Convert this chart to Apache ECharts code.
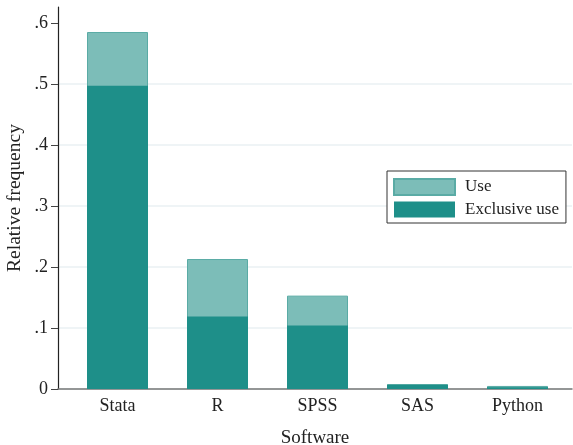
<!DOCTYPE html>
<html>
<head>
<meta charset="utf-8">
<script src="https://cdn.jsdelivr.net/npm/echarts@6/dist/echarts.min.js"></script>
<style>html,body{margin:0;padding:0;background:#fff}#c{width:573px;height:445px}</style>
</head>
<body>
<div id="c"></div>
<script>
const categories = ['Stata', 'R', 'SPSS', 'SAS', 'Python'];
const useValues = [0.585, 0.213, 0.153, 0.008, 0.005];
const exclusiveValues = [0.497, 0.119, 0.104, 0.007, 0.003];
const yTicks = [0, 0.1, 0.2, 0.3, 0.4, 0.5, 0.6];
const xTicks = [0, 1, 2, 3, 4];

const FONT = 'Liberation Serif';
const chart = echarts.init(document.getElementById('c'), null, {renderer: 'canvas'});
chart.setOption({
  animation: false,
  backgroundColor: '#ffffff',
  textStyle: {fontFamily: FONT},
  grid: {left: 58, right: 1, top: 7, bottom: 56, containLabel: false, outerBoundsMode: 'none'},
  legend: {
    left: 387, top: 171,
    orient: 'vertical',
    itemWidth: 61, itemHeight: 16, itemGap: 5,
    padding: [7, 7, 5, 6],
    borderColor: '#333', borderWidth: 1,
    backgroundColor: '#fff',
    textStyle: {fontFamily: FONT, fontSize: 17, color: '#222', padding: [0, 0, 0, 5]},
    data: [{name: 'Use', icon: 'rect'}, {name: 'Exclusive use', icon: 'rect'}]
  },
  xAxis: {
    type: 'value',
    min: -0.595, max: 4.545,
    name: 'Software', nameLocation: 'middle', nameGap: 40, nameMoveOverlap: false,
    nameTextStyle: {fontFamily: FONT, fontSize: 19, color: '#222'},
    axisLine: {show: true, onZero: false, lineStyle: {color: '#777', width: 1.5}},
    axisTick: {show: false, customValues: xTicks},
    axisLabel: {customValues: xTicks, formatter: v => categories[v], fontFamily: FONT, fontSize: 18, color: '#222', margin: 8},
    splitLine: {show: false}
  },
  yAxis: {
    type: 'value',
    min: 0, max: 0.626,
    name: 'Relative frequency', nameLocation: 'middle', nameGap: 33, nameMoveOverlap: false,
    nameTextStyle: {fontFamily: FONT, fontSize: 19.5, color: '#222'},
    axisLine: {show: true, onZero: false, lineStyle: {color: '#222', width: 1.2}},
    axisTick: {show: true, customValues: yTicks, length: 7, lineStyle: {color: '#444'}},
    axisLabel: {customValues: yTicks, formatter: v => v === 0 ? '0' : String(+v.toFixed(1)).replace(/^0\./, '.'), fontFamily: FONT, fontSize: 18, color: '#222', margin: 10},
    splitLine: {show: true, showMaxLine: false, lineStyle: {color: '#eaf0f3', width: 1.5}}
  },
  series: [
    {
      name: 'Use', type: 'bar', barWidth: 61,
      data: useValues.map((v, i) => [i, v]),
      itemStyle: {color: '#7cbdb8', borderColor: '#5aaba5', borderWidth: 1},
      z: 2
    },
    {
      name: 'Exclusive use', type: 'bar', barWidth: 61, barGap: '-100%',
      data: exclusiveValues.map((v, i) => [i, v]),
      itemStyle: {color: '#1e8f89'},
      z: 3
    }
  ]
});
</script>
</body>
</html>
